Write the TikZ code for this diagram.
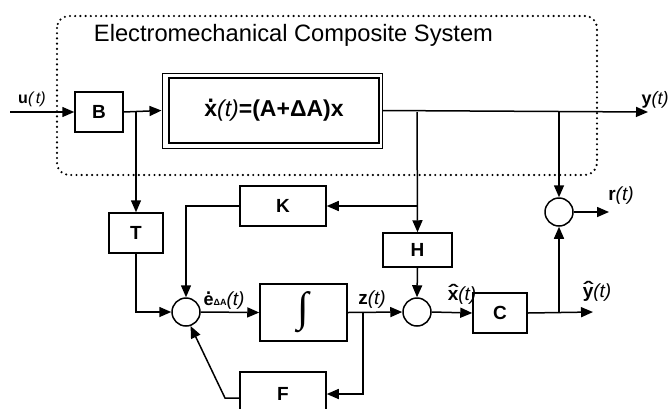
\documentclass[tikz,border=0pt]{standalone}
\usepackage{fontspec}
\setmainfont{Liberation Sans}
\newfontfamily\intfont{Liberation Serif}
\usetikzlibrary{arrows.meta}
\newcommand\dotacc[1]{\ooalign{#1\cr\hidewidth\raisebox{0.62em}{.}\hidewidth\cr}}
\newcommand\hatacc[1]{\ooalign{#1\cr\hidewidth\raisebox{0.12em}{\scalebox{1.5}[1]{ˆ}}\hidewidth\cr}}
\begin{document}
\begin{tikzpicture}[x=1pt,y=-1pt,
  box/.style={draw,line width=1.5pt,inner sep=0pt,font=\fontsize{19}{21}\selectfont\bfseries},
  sumc/.style={draw,circle,line width=1.5pt,minimum size=28pt,inner sep=0pt},
  conn/.style={line width=1.5pt,-{Triangle[length=12pt,width=10pt]}},
  lbl/.style={font=\fontsize{19}{21}\selectfont,inner sep=0pt}]
\clip (0,0) rectangle (668,408);
\fill[white] (0,0) rectangle (668,408);
% dotted system boundary
\draw[line width=2.4pt,line cap=round,dash pattern=on 0pt off 5.2pt,rounded corners=12pt] (57,16) rectangle (597,175);
\node[font=\fontsize{23.7}{26}\selectfont,inner sep=0pt] (title) at (293.5,35) {Electromechanical Composite System};
% blocks
\node[box,minimum width=48pt,minimum height=40pt] (B) at (99,112) {B};
\node[draw,line width=1pt,minimum width=220pt,minimum height=75pt] (sys) at (272,110.5) {};
\node[draw,line width=2.4pt,minimum width=210pt,minimum height=65pt,inner sep=0pt,font=\fontsize{23}{25}\selectfont\bfseries] (sysin) at (274,110.5) {\dotacc{x}\textit{\mdseries(t)}=(A+ΔA)x};
\node[box,minimum width=54pt,minimum height=40pt] (T) at (136,233) {T};
\node[box,minimum width=86pt,minimum height=40pt] (K) at (283,206) {K};
\node[sumc] (sum1) at (186,312) {};
\node[box,minimum width=87pt,minimum height=57pt,font=\intfont\fontsize{42}{42}\selectfont\bfseries] (int) at (303.5,312.5) {∫};
\node[box,minimum width=86pt,minimum height=44pt] (F) at (283,394) {F};
\node[box,minimum width=69pt,minimum height=34pt] (H) at (417.5,250) {H};
\node[sumc] (sum2) at (417,312) {};
\node[box,minimum width=54pt,minimum height=40pt] (C) at (500,313) {C};
\node[sumc] (sum3) at (559,212) {};
% coordinates
\coordinate (uin) at (10,112);
\coordinate (j1) at (136,112);
\coordinate (yout) at (648,112);
\coordinate (j2) at (417,112);
\coordinate (j2k) at (417,206);
\coordinate (jz) at (363,312);
\coordinate (fb) at (225,398);
\coordinate (yhat) at (593,312);
\coordinate (j3) at (559,312);
\coordinate (j4) at (559,112);
\coordinate (rout) at (609,212);
% connectors
\draw[conn] (uin) -- (B.west);
\draw[conn] (B.east) -- (sys.west);
\draw[conn] (j1) -- (T.north);
\draw[conn] (sys.east) -- (yout);
\draw[conn] (j2) -- (H.north);
\draw[conn] (j2k) -- (K.east);
\draw[conn] (K.west) -| (sum1.north);
\draw[conn] (T.south) |- (sum1.west);
\draw[conn] (sum1.east) -- (int.west);
\draw[conn] (int.east) -- (sum2.west);
\draw[conn] (jz) |- (F.east);
\draw[conn] (F.west |- fb) -- (fb) -- (sum1.-72);
\draw[conn] (H.south) -- (sum2.north);
\draw[conn] (sum2.east) -- (C.west);
\draw[conn] (C.east) -- (yhat);
\draw[conn] (j3) -- (sum3.south);
\draw[conn] (j4) -- (sum3.north);
\draw[conn] (sum3.east) -- (rout);
% labels
\node[lbl,font=\fontsize{16}{18}\selectfont] (lu) at (32,99) {\textbf{u}\textit{(\,t)}};
\node[lbl,font=\fontsize{18}{20}\selectfont] (ly) at (655,100) {\textbf{y}\textit{(t)}};
\node[lbl] (lr) at (621,196) {\textbf{r}\textit{(t)}};
\node[lbl] (lyh) at (597,293) {\textbf{\hatacc{y}}\textit{(t)}};
\node[lbl] (lxh) at (462,296) {\textbf{\hatacc{x}}\textit{(t)}};
\node[lbl] (lz) at (372,300) {\textbf{z}\textit{(t)}};
\node[lbl] (le) at (224,301) {{\fontsize{18}{20}\selectfont\bfseries\dotacc{e}}{\fontsize{9}{10}\selectfont\bfseries ΔA}\textit{(t)}};
\end{tikzpicture}
\end{document}
